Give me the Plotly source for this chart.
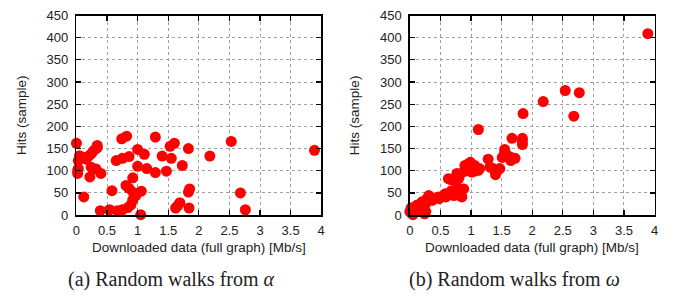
import plotly.graph_objects as go

# Panel (a): random walks from alpha
alpha_x = [0.00, 0.02, 0.03, 0.02, 0.05, 0.08, 0.11, 0.03, 0.16, 0.20, 0.24, 0.28, 0.32, 0.34, 0.34,
           0.12, 0.22, 0.24, 0.32, 0.40,
           0.39, 0.54, 0.67, 0.75, 0.84, 0.89, 0.92, 0.97, 0.93, 0.86, 0.81, 0.92, 0.58, 1.06, 1.05,
           0.65, 0.75, 0.86, 0.74, 0.82, 1.29, 1.00, 1.11, 1.00, 1.15, 1.29, 1.47, 1.40, 1.55, 1.53, 1.60, 1.73, 1.83,
           1.62, 1.69, 1.84, 1.66, 1.85, 1.83,
           2.18, 2.53, 3.89, 2.68, 2.76]
alpha_y = [162, 94, 105, 100, 134, 128, 130, 123, 126, 133, 138, 145, 150, 157, 152,
           41, 86, 108, 104, 94,
           10, 12, 10, 12, 17, 23, 34, 44, 51, 60, 67, 84, 55, 54, 1,
           123, 128, 132, 172, 178, 176, 148, 137, 110, 105, 96, 99, 133, 128, 155, 162, 112, 150,
           16, 28, 16, 22, 59, 52,
           133, 166, 146, 50, 12]

# Panel (b): random walks from omega
omega_x = [0.00, 0.02, 0.05, 0.04, 0.02, 0.10, 0.10, 0.12, 0.15, 0.20, 0.21, 0.24, 0.26, 0.20, 0.26,
           0.28, 0.31, 0.33, 0.36, 0.37, 0.47, 0.48, 0.58, 0.59, 0.68, 0.72, 0.77, 0.77, 0.82, 0.85,
           0.85, 0.88, 0.63, 0.67, 0.75, 0.80, 0.77, 0.77, 0.88, 0.90, 0.96, 0.96, 0.99, 1.01, 1.04,
           1.06, 1.06, 1.12, 1.14, 1.28, 1.31, 1.36, 1.40, 1.47, 1.51, 1.55, 1.55, 1.60, 1.65, 1.66,
           1.72, 1.67, 1.84, 1.84, 1.84, 1.12, 1.85, 2.18, 2.54, 2.77, 2.68, 3.89]
omega_y = [8, 5, 1, 16, 16, 8, 19, 23, 23, 9, 12, 3, 8, 30, 26,
           37, 44, 41, 34, 34, 41, 37, 48, 41, 55, 44, 51, 62, 44, 58,
           41, 59, 82, 80, 76, 83, 91, 94, 98, 112, 116, 108, 119, 97, 108,
           99, 112, 101, 105, 126, 108, 105, 91, 105, 130, 141, 148, 134, 123, 130,
           128, 173, 173, 166, 159, 193, 229, 256, 281, 276, 223, 409]

x_ticks = [0, 0.5, 1, 1.5, 2, 2.5, 3, 3.5, 4]
x_tick_text = ["0", "0.5", "1", "1.5", "2", "2.5", "3", "3.5", "4"]
y_ticks = [0, 50, 100, 150, 200, 250, 300, 350, 400, 450]

x_title = "Downloaded data (full graph) [Mb/s]"
y_title = "Hits (sample)"
captions = ["(a) Random walks from <i>α</i>", "(b) Random walks from <i>ω</i>"]

W, H = 679, 301
FONT = "Liberation Sans, Arial, sans-serif"

fig = go.Figure()
marker = dict(color="#ff0000", size=11, line=dict(width=0))
fig.add_trace(go.Scatter(x=alpha_x, y=alpha_y, mode="markers", marker=marker,
                         cliponaxis=False, xaxis="x", yaxis="y", showlegend=False))
fig.add_trace(go.Scatter(x=omega_x, y=omega_y, mode="markers", marker=marker,
                         cliponaxis=False, xaxis="x2", yaxis="y2", showlegend=False))

y_dom = [1 - 219 / H, 1 - 9 / H]
x1_dom = [73.3 / W, 321 / W]
x2_dom = [410.7 / W, 658.3 / W]

common_x = dict(range=[0, 4], tickvals=x_ticks, ticktext=x_tick_text,
                showgrid=True, gridcolor="#a0a0a0", griddash="dot", gridwidth=1,
                showline=True, linecolor="black", linewidth=1.6, mirror="ticks",
                ticks="inside", ticklen=5, tickcolor="black", tickwidth=1.2,
                zeroline=False, tickfont=dict(family=FONT, size=13, color="#222"),
                ticklabelstandoff=3, fixedrange=True)
common_y = dict(range=[0, 450], tickvals=y_ticks,
                showgrid=True, gridcolor="#a0a0a0", griddash="dot", gridwidth=1,
                showline=True, linecolor="black", linewidth=1.6, mirror="ticks",
                ticks="inside", ticklen=5, tickcolor="black", tickwidth=1.2,
                zeroline=False, tickfont=dict(family=FONT, size=13, color="#222"),
                ticklabelstandoff=4, fixedrange=True)

fig.update_layout(
    width=W, height=H,
    margin=dict(l=0, r=0, t=0, b=0),
    paper_bgcolor="white", plot_bgcolor="white",
    xaxis=dict(domain=x1_dom, anchor="y", **common_x),
    yaxis=dict(domain=y_dom, anchor="x", **common_y),
    xaxis2=dict(domain=x2_dom, anchor="y2", **common_x),
    yaxis2=dict(domain=y_dom, anchor="x2", **common_y),
)

ann = []
for cx, ytx in [((73.3 + 321) / 2 / W, 18 / W), ((410.7 + 658.3) / 2 / W, 355 / W)]:
    ann.append(dict(text=x_title, x=cx, y=1 - 253 / H, xref="paper", yref="paper",
                    xanchor="center", yanchor="middle", showarrow=False,
                    font=dict(family=FONT, size=13.5, color="#222")))
    ann.append(dict(text=y_title, x=ytx, y=1 - 114 / H, xref="paper", yref="paper",
                    xanchor="center", yanchor="middle", showarrow=False, textangle=-90,
                    font=dict(family=FONT, size=13.5, color="#222")))
for cap, cx in zip(captions, [169 / W, 517 / W]):
    ann.append(dict(text=cap, x=cx, y=1 - 287 / H, xref="paper", yref="paper",
                    xanchor="center", yanchor="middle", showarrow=False,
                    font=dict(family="Liberation Serif, Times New Roman, serif", size=20, color="#222")))
fig.update_layout(annotations=ann)

fig.write_html("out.html", config={"displayModeBar": False, "staticPlot": True},
               post_script="document.body.style.margin='0';document.body.style.overflow='hidden';")
